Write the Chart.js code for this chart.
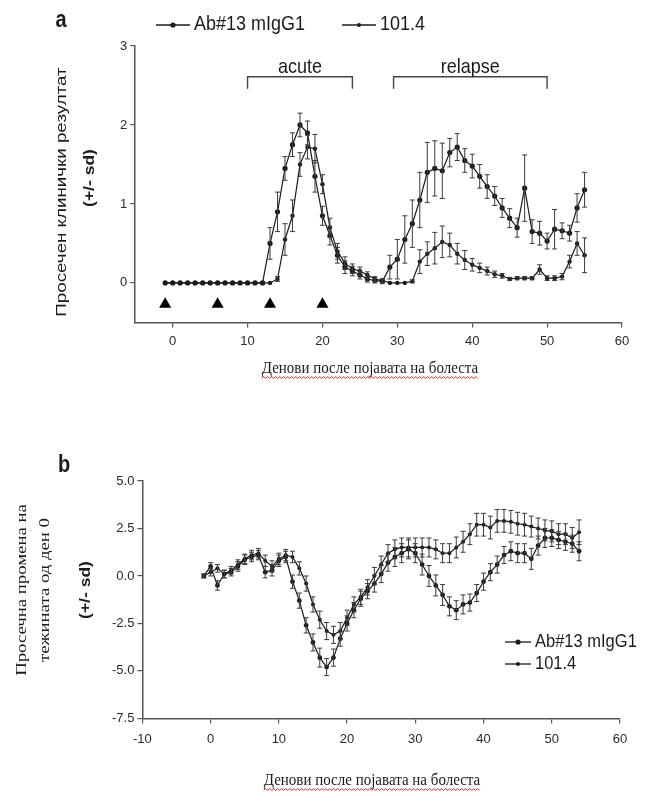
<!DOCTYPE html>
<html>
<head>
<meta charset="utf-8">
<script src="https://cdn.jsdelivr.net/npm/chart.js@4.4.0/dist/chart.umd.min.js"></script>
<style>
  body { margin: 0; background: #fff; width: 650px; height: 800px; position: relative; overflow: hidden; }
  canvas { position: absolute; left: 0; }
  #chartA { top: 0; }
  #chartB { top: 420px; }
</style>
</head>
<body>
<canvas id="chartA" width="650" height="400"></canvas>
<canvas id="chartB" width="650" height="380"></canvas>
<script>
// ---- panel a: clinical score ----
const daysA = [-1,0,1,2,3,4,5,6,7,8,9,10,11,12,13,14,15,16,17,18,19,20,21,22,23,24,25,26,27,28,29,30,31,32,33,34,35,36,37,38,39,40,41,42,43,44,45,46,47,48,49,50,51,52,53,54,55];
const scoreAb13 = [0,0,0,0,0,0,0,0,0,0,0,0,0,0,0.5,0.9,1.45,1.75,2.0,1.9,1.35,0.85,0.6,0.35,0.2,0.15,0.1,0.05,0.03,0.02,0.2,0.3,0.55,0.75,1.05,1.4,1.45,1.42,1.65,1.72,1.55,1.48,1.35,1.22,1.1,0.95,0.82,0.7,1.2,0.65,0.63,0.53,0.68,0.66,0.63,0.95,1.18];
const sdScoreAb13 = [0,0,0,0,0,0,0,0,0,0,0,0,0,0,0.2,0.25,0.15,0.15,0.15,0.15,0.2,0.12,0.12,0.1,0.08,0.06,0.05,0.04,0.03,0.03,0.15,0.25,0.3,0.3,0.35,0.38,0.35,0.35,0.18,0.17,0.15,0.15,0.15,0.15,0.12,0.12,0.12,0.12,0.42,0.15,0.15,0.1,0.25,0.1,0.1,0.18,0.22];
const score101 = [0,0,0,0,0,0,0,0,0,0,0,0,0,0,0,0.05,0.55,0.85,1.5,1.72,1.7,1.25,0.7,0.4,0.25,0.18,0.15,0.1,0.05,0.03,0,0,0,0.02,0.27,0.37,0.44,0.52,0.48,0.37,0.29,0.23,0.19,0.15,0.11,0.09,0.05,0.06,0.06,0.06,0.17,0.06,0.06,0.08,0.27,0.5,0.35];
const sdScore101 = [0,0,0,0,0,0,0,0,0,0,0,0,0,0,0,0.03,0.2,0.2,0.15,0.15,0.18,0.12,0.12,0.1,0.08,0.06,0.05,0.04,0.03,0.02,0,0,0,0.02,0.15,0.15,0.2,0.2,0.15,0.13,0.12,0.08,0.06,0.05,0.04,0.03,0.02,0.02,0.02,0.02,0.06,0.03,0.03,0.04,0.08,0.15,0.22];
const injectionDays = [-1, 6, 13, 20];
const phases = [
  { label: 'acute', from: 10, to: 24 },
  { label: 'relapse', from: 29.5, to: 50 }
];
const xTicksA = [0, 10, 20, 30, 40, 50, 60];
const yTicksA = [0, 1, 2, 3];

// ---- panel b: weight change ----
const daysB = [-1,0,1,2,3,4,5,6,7,8,9,10,11,12,13,14,15,16,17,18,19,20,21,22,23,24,25,26,27,28,29,30,31,32,33,34,35,36,37,38,39,40,41,42,43,44,45,46,47,48,49,50,51,52,53,54];
const weightAb13 = [0,0.5,-0.5,0.1,0.2,0.5,0.85,1.0,1.1,0.2,0.3,0.8,1.0,-0.3,-1.3,-2.6,-3.5,-4.3,-4.8,-4.3,-3.3,-2.5,-1.8,-1.2,-0.8,-0.4,0.1,0.7,1.0,1.2,1.4,1.2,0.6,0.0,-0.5,-1.0,-1.6,-1.8,-1.5,-1.4,-0.9,-0.3,0.2,0.6,1.1,1.3,1.2,1.2,0.9,1.6,2.0,2.0,1.9,1.8,1.7,1.3];
const sdWeightAb13 = [0.1,0.2,0.25,0.2,0.2,0.25,0.25,0.25,0.25,0.3,0.3,0.3,0.3,0.35,0.4,0.4,0.45,0.5,0.45,0.45,0.4,0.4,0.4,0.4,0.4,0.45,0.45,0.45,0.5,0.5,0.5,0.5,0.55,0.55,0.55,0.55,0.5,0.5,0.5,0.45,0.45,0.45,0.45,0.45,0.45,0.5,0.5,0.5,0.55,0.5,0.5,0.45,0.45,0.45,0.45,0.5];
const weight101 = [0,0.2,0.4,0.1,0.3,0.6,0.9,1.1,1.2,0.8,0.5,0.9,1.1,1.0,0.4,-0.4,-1.5,-2.3,-2.9,-3.1,-2.9,-2.2,-1.5,-1.1,-0.6,0.0,0.6,1.2,1.4,1.5,1.5,1.5,1.5,1.5,1.4,1.2,1.2,1.5,1.8,2.2,2.7,2.7,2.55,2.9,2.9,2.85,2.75,2.7,2.6,2.5,2.4,2.35,2.2,2.2,2.0,2.3];
const sdWeight101 = [0.1,0.2,0.2,0.2,0.2,0.25,0.25,0.25,0.25,0.3,0.3,0.3,0.3,0.3,0.35,0.4,0.4,0.45,0.45,0.45,0.45,0.4,0.4,0.4,0.4,0.45,0.45,0.45,0.5,0.5,0.5,0.5,0.5,0.5,0.5,0.5,0.5,0.55,0.55,0.55,0.6,0.6,0.6,0.6,0.6,0.6,0.6,0.6,0.55,0.55,0.55,0.55,0.55,0.55,0.55,0.65];
const xTicksB = [-10, 0, 10, 20, 30, 40, 50, 60];
const yTicksB = [-7.5, -5, -2.5, 0, 2.5, 5];

const seriesNames = ['Ab#13 mIgG1', '101.4'];
const xTitle = 'Денови после појавата на болеста';

const SANS = '"Liberation Sans", Arial, sans-serif';
const SERIF = '"Liberation Serif", "Times New Roman", serif';
const INK = '#1b1b1b';

function pts(xs, ys) { return xs.map((x, i) => ({ x: x, y: ys[i] })); }

function drawText(ctx, text, x, y, font, o) {
  o = o || {};
  ctx.save();
  ctx.translate(x, y);
  ctx.scale(1, o.sy || 1);
  if (o.rotate) ctx.rotate(-Math.PI / 2);
  ctx.font = font;
  ctx.fillStyle = o.color || INK;
  ctx.textAlign = o.align || 'center';
  ctx.textBaseline = 'middle';
  ctx.fillText(text, 0, 0);
  const w = ctx.measureText(text).width;
  ctx.restore();
  return w;
}

function wavyLine(ctx, x0, x1, y) {
  ctx.save();
  ctx.strokeStyle = '#d42a2a';
  ctx.lineWidth = 1;
  ctx.beginPath();
  let up = true;
  ctx.moveTo(x0, y);
  for (let x = x0 + 2; x <= x1; x += 2) {
    ctx.lineTo(x, up ? y - 1.5 : y + 0.5);
    up = !up;
  }
  ctx.stroke();
  ctx.restore();
}

function legendSymbol(ctx, x, y, len, r) {
  ctx.save();
  ctx.strokeStyle = INK;
  ctx.fillStyle = INK;
  ctx.lineWidth = 1.3;
  ctx.beginPath();
  ctx.moveTo(x, y);
  ctx.lineTo(x + len, y);
  ctx.stroke();
  ctx.beginPath();
  ctx.arc(x + len / 2, y, r, 0, Math.PI * 2);
  ctx.fill();
  ctx.restore();
}

// error bars, brackets, titles, legend
const decor = {
  id: 'decor',
  afterDatasetsDraw(chart) {
    const ctx = chart.ctx;
    const ys = chart.scales.y;
    chart.data.datasets.forEach((ds, i) => {
      if (!ds.sd) return;
      const meta = chart.getDatasetMeta(i);
      ctx.save();
      ctx.strokeStyle = '#3a3a3a';
      ctx.lineWidth = 1;
      meta.data.forEach((el, j) => {
        const s = ds.sd[j];
        if (!s) return;
        const v = ds.data[j].y;
        const px = el.x;
        const top = ys.getPixelForValue(v + s);
        const bot = ys.getPixelForValue(v - s);
        ctx.beginPath();
        ctx.moveTo(px, top); ctx.lineTo(px, bot);
        ctx.moveTo(px - 2.5, top); ctx.lineTo(px + 2.5, top);
        ctx.moveTo(px - 2.5, bot); ctx.lineTo(px + 2.5, bot);
        ctx.stroke();
      });
      ctx.restore();
    });
  },
  afterDraw(chart, args, opts) {
    const ctx = chart.ctx;
    const xs = chart.scales.x, ys = chart.scales.y;
    // panel letter
    drawText(ctx, opts.letter, opts.letterPos[0], opts.letterPos[1], 'bold 20px ' + SANS, { sy: 1.15 });
    // phase brackets
    (opts.phases || []).forEach(p => {
      const x0 = xs.getPixelForValue(p.from), x1 = xs.getPixelForValue(p.to);
      const yTop = ys.getPixelForValue(opts.bracketY);
      const yEnd = ys.getPixelForValue(opts.bracketY - 0.15);
      ctx.save();
      ctx.strokeStyle = '#444';
      ctx.lineWidth = 1.4;
      ctx.beginPath();
      ctx.moveTo(x0, yEnd); ctx.lineTo(x0, yTop); ctx.lineTo(x1, yTop); ctx.lineTo(x1, yEnd);
      ctx.stroke();
      ctx.restore();
      drawText(ctx, p.label, (x0 + x1) / 2, ys.getPixelForValue(opts.bracketY + 0.12), '18px ' + SANS, { sy: 1.1 });
    });
    // y titles
    opts.yTitles.forEach(t => {
      drawText(ctx, t.text, t.x, t.y, t.font, { rotate: true, sy: 1.25 });
    });
    // x title with the wavy underline
    const cx = opts.xTitlePos[0], cy = opts.xTitlePos[1];
    const w = drawText(ctx, xTitle, cx, cy, '15px ' + SERIF, { sy: 1.15 });
    wavyLine(ctx, cx - w / 2, cx + w / 2, cy + 10);
    // legend
    const lg = opts.legend;
    seriesNames.forEach((name, i) => {
      const lx = lg.items[i][0], ly = lg.items[i][1];
      legendSymbol(ctx, lx, ly, lg.symLen, i === 0 ? 2.6 : 2.0);
      drawText(ctx, name, lx + lg.symLen + 4, ly, lg.font, { align: 'left', sy: 1.1 });
    });
  }
};

function axisOpts(min, max, tickVals, fmt, pad) {
  return {
    type: 'linear',
    min: min,
    max: max,
    afterBuildTicks: s => { s.ticks = tickVals.map(v => ({ value: v })); },
    grid: { drawOnChartArea: false, drawTicks: true, tickLength: 5, color: '#555', lineWidth: 1.2 },
    border: { color: '#555', width: 1.5 },
    ticks: { font: { family: SANS, size: 13 }, color: '#2a2a2a', padding: pad, maxRotation: 0, callback: fmt }
  };
}

function lineSet(label, xs, ys, sd, r) {
  return {
    label: label,
    data: pts(xs, ys),
    sd: sd,
    borderColor: INK,
    backgroundColor: INK,
    borderWidth: 1.2,
    pointRadius: r,
    pointBackgroundColor: INK,
    pointBorderWidth: 0,
    tension: 0
  };
}

new Chart(document.getElementById('chartA'), {
  type: 'line',
  data: {
    datasets: [
      lineSet(seriesNames[0], daysA, scoreAb13, sdScoreAb13, 2.6),
      lineSet(seriesNames[1], daysA, score101, sdScore101, 2.2),
      {
        label: 'injection',
        data: injectionDays.map(d => ({ x: d, y: -0.27 })),
        showLine: false,
        pointStyle: 'triangle',
        pointRadius: 7,
        pointBackgroundColor: '#000',
        pointBorderWidth: 0
      }
    ]
  },
  options: {
    responsive: false,
    animation: false,
    layout: { padding: { left: 117, right: 28, top: 46, bottom: 45 } },
    scales: {
      x: axisOpts(-5, 60, xTicksA, v => v, 6),
      y: axisOpts(-0.5, 3, yTicksA, v => v, 3)
    },
    plugins: {
      legend: { display: false },
      tooltip: { enabled: false },
      decor: {
        letter: 'a', letterPos: [61, 21],
        phases: phases, bracketY: 2.61,
        yTitles: [
          { text: 'Просечен клинички резултат', x: 62, y: 192, font: '15px ' + SANS },
          { text: '(+/- sd)', x: 90, y: 178, font: 'bold 14px ' + SANS }
        ],
        xTitlePos: [370, 368],
        legend: { symLen: 34, font: '18px ' + SANS, items: [[156, 25], [342, 25]] }
      }
    }
  },
  plugins: [decor]
});

new Chart(document.getElementById('chartB'), {
  type: 'line',
  data: {
    datasets: [
      lineSet(seriesNames[0], daysB, weightAb13, sdWeightAb13, 2.4),
      lineSet(seriesNames[1], daysB, weight101, sdWeight101, 2.0)
    ]
  },
  options: {
    responsive: false,
    animation: false,
    layout: { padding: { left: 109, right: 30, top: 61, bottom: 45 } },
    scales: {
      x: axisOpts(-10, 60, xTicksB, v => v, 8),
      y: axisOpts(-7.5, 5, yTicksB, v => Number(v).toFixed(1), 3)
    },
    plugins: {
      legend: { display: false },
      tooltip: { enabled: false },
      decor: {
        letter: 'b', letterPos: [64, 46],
        yTitles: [
          { text: 'Просечна промена на', x: 22, y: 170, font: '15px ' + SERIF },
          { text: 'тежината од ден 0', x: 45, y: 170, font: '15px ' + SERIF },
          { text: '(+/- sd)', x: 86, y: 170, font: 'bold 14px ' + SANS }
        ],
        xTitlePos: [372, 360],
        legend: { symLen: 26, font: '16.5px ' + SANS, items: [[505, 222], [505, 244]] }
      }
    }
  },
  plugins: [decor]
});
</script>
</body>
</html>
